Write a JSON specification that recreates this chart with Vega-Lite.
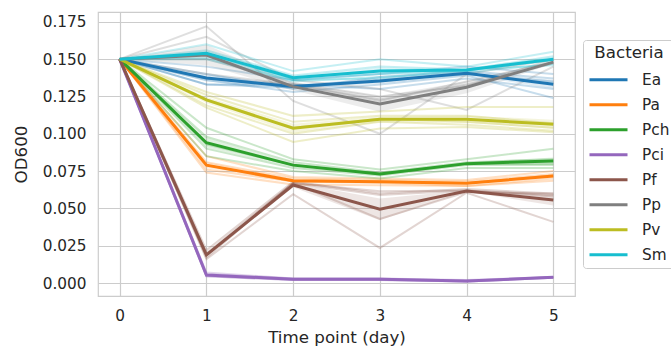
{
  "$schema": "https://vega.github.io/schema/vega-lite/v6.json",
  "width": 477,
  "height": 284,
  "autosize": {"type": "none"},
  "padding": {"left": 98, "top": 12, "right": 96, "bottom": 53},
  "background": "white",
  "config": {
    "font": "DejaVu Sans",
    "view": {"stroke": "#cccccc", "strokeWidth": 1.2},
    "axis": {
      "grid": true, "gridColor": "#cccccc", "gridWidth": 1.2, "domain": false, "ticks": false,
      "labelFontSize": 15.3, "labelColor": "#262626", "titleFontSize": 16.7, "titleColor": "#262626",
      "titleFontWeight": "normal", "labelPadding": 12
    },
    "legend": {
      "strokeColor": "#cccccc", "cornerRadius": 3, "padding": 5, "fillColor": "white",
      "titleFontSize": 16.7, "titleFontWeight": "normal", "titleColor": "#262626", "titleAnchor": "middle", "titlePadding": 7,
      "labelFontSize": 15.3, "labelColor": "#262626", "labelOffset": 32, "symbolType": "M-1,0H3",
      "symbolStrokeWidth": 3, "symbolSize": 361, "rowPadding": 5, "symbolOpacity": 1, "symbolFillColor": "transparent"
    }
  },
  "datasets": {
    "reps": [
      {"day":0,"bacteria":"Ea","rep":1,"od":0.150},{"day":1,"bacteria":"Ea","rep":1,"od":0.145},{"day":2,"bacteria":"Ea","rep":1,"od":0.136},{"day":3,"bacteria":"Ea","rep":1,"od":0.140},{"day":4,"bacteria":"Ea","rep":1,"od":0.145},{"day":5,"bacteria":"Ea","rep":1,"od":0.140},
      {"day":0,"bacteria":"Ea","rep":2,"od":0.150},{"day":1,"bacteria":"Ea","rep":2,"od":0.140},{"day":2,"bacteria":"Ea","rep":2,"od":0.130},{"day":3,"bacteria":"Ea","rep":2,"od":0.138},{"day":4,"bacteria":"Ea","rep":2,"od":0.142},{"day":5,"bacteria":"Ea","rep":2,"od":0.137},
      {"day":0,"bacteria":"Ea","rep":3,"od":0.150},{"day":1,"bacteria":"Ea","rep":3,"od":0.136},{"day":2,"bacteria":"Ea","rep":3,"od":0.128},{"day":3,"bacteria":"Ea","rep":3,"od":0.133},{"day":4,"bacteria":"Ea","rep":3,"od":0.139},{"day":5,"bacteria":"Ea","rep":3,"od":0.124},
      {"day":0,"bacteria":"Ea","rep":4,"od":0.150},{"day":1,"bacteria":"Ea","rep":4,"od":0.133},{"day":2,"bacteria":"Ea","rep":4,"od":0.133},{"day":3,"bacteria":"Ea","rep":4,"od":0.130},{"day":4,"bacteria":"Ea","rep":4,"od":0.137},{"day":5,"bacteria":"Ea","rep":4,"od":0.130},
      {"day":0,"bacteria":"Ea","rep":5,"od":0.150},{"day":1,"bacteria":"Ea","rep":5,"od":0.133},{"day":2,"bacteria":"Ea","rep":5,"od":0.131},{"day":3,"bacteria":"Ea","rep":5,"od":0.136},{"day":4,"bacteria":"Ea","rep":5,"od":0.140},{"day":5,"bacteria":"Ea","rep":5,"od":0.135},

      {"day":0,"bacteria":"Pa","rep":1,"od":0.150},{"day":1,"bacteria":"Pa","rep":1,"od":0.085},{"day":2,"bacteria":"Pa","rep":1,"od":0.071},{"day":3,"bacteria":"Pa","rep":1,"od":0.070},{"day":4,"bacteria":"Pa","rep":1,"od":0.069},{"day":5,"bacteria":"Pa","rep":1,"od":0.075},
      {"day":0,"bacteria":"Pa","rep":2,"od":0.150},{"day":1,"bacteria":"Pa","rep":2,"od":0.081},{"day":2,"bacteria":"Pa","rep":2,"od":0.070},{"day":3,"bacteria":"Pa","rep":2,"od":0.069},{"day":4,"bacteria":"Pa","rep":2,"od":0.068},{"day":5,"bacteria":"Pa","rep":2,"od":0.073},
      {"day":0,"bacteria":"Pa","rep":3,"od":0.150},{"day":1,"bacteria":"Pa","rep":3,"od":0.079},{"day":2,"bacteria":"Pa","rep":3,"od":0.068},{"day":3,"bacteria":"Pa","rep":3,"od":0.068},{"day":4,"bacteria":"Pa","rep":3,"od":0.067},{"day":5,"bacteria":"Pa","rep":3,"od":0.072},
      {"day":0,"bacteria":"Pa","rep":4,"od":0.150},{"day":1,"bacteria":"Pa","rep":4,"od":0.076},{"day":2,"bacteria":"Pa","rep":4,"od":0.068},{"day":3,"bacteria":"Pa","rep":4,"od":0.067},{"day":4,"bacteria":"Pa","rep":4,"od":0.065},{"day":5,"bacteria":"Pa","rep":4,"od":0.070},
      {"day":0,"bacteria":"Pa","rep":5,"od":0.150},{"day":1,"bacteria":"Pa","rep":5,"od":0.074},{"day":2,"bacteria":"Pa","rep":5,"od":0.066},{"day":3,"bacteria":"Pa","rep":5,"od":0.0655},{"day":4,"bacteria":"Pa","rep":5,"od":0.065},{"day":5,"bacteria":"Pa","rep":5,"od":0.0685},

      {"day":0,"bacteria":"Pch","rep":1,"od":0.150},{"day":1,"bacteria":"Pch","rep":1,"od":0.104},{"day":2,"bacteria":"Pch","rep":1,"od":0.083},{"day":3,"bacteria":"Pch","rep":1,"od":0.076},{"day":4,"bacteria":"Pch","rep":1,"od":0.083},{"day":5,"bacteria":"Pch","rep":1,"od":0.090},
      {"day":0,"bacteria":"Pch","rep":2,"od":0.150},{"day":1,"bacteria":"Pch","rep":2,"od":0.098},{"day":2,"bacteria":"Pch","rep":2,"od":0.081},{"day":3,"bacteria":"Pch","rep":2,"od":0.074},{"day":4,"bacteria":"Pch","rep":2,"od":0.081},{"day":5,"bacteria":"Pch","rep":2,"od":0.083},
      {"day":0,"bacteria":"Pch","rep":3,"od":0.150},{"day":1,"bacteria":"Pch","rep":3,"od":0.093},{"day":2,"bacteria":"Pch","rep":3,"od":0.079},{"day":3,"bacteria":"Pch","rep":3,"od":0.073},{"day":4,"bacteria":"Pch","rep":3,"od":0.080},{"day":5,"bacteria":"Pch","rep":3,"od":0.080},
      {"day":0,"bacteria":"Pch","rep":4,"od":0.150},{"day":1,"bacteria":"Pch","rep":4,"od":0.090},{"day":2,"bacteria":"Pch","rep":4,"od":0.077},{"day":3,"bacteria":"Pch","rep":4,"od":0.072},{"day":4,"bacteria":"Pch","rep":4,"od":0.079},{"day":5,"bacteria":"Pch","rep":4,"od":0.079},
      {"day":0,"bacteria":"Pch","rep":5,"od":0.150},{"day":1,"bacteria":"Pch","rep":5,"od":0.085},{"day":2,"bacteria":"Pch","rep":5,"od":0.075},{"day":3,"bacteria":"Pch","rep":5,"od":0.070},{"day":4,"bacteria":"Pch","rep":5,"od":0.077},{"day":5,"bacteria":"Pch","rep":5,"od":0.077},

      {"day":0,"bacteria":"Pci","rep":1,"od":0.150},{"day":1,"bacteria":"Pci","rep":1,"od":0.007},{"day":2,"bacteria":"Pci","rep":1,"od":0.003},{"day":3,"bacteria":"Pci","rep":1,"od":0.003},{"day":4,"bacteria":"Pci","rep":1,"od":0.002},{"day":5,"bacteria":"Pci","rep":1,"od":0.004},
      {"day":0,"bacteria":"Pci","rep":2,"od":0.150},{"day":1,"bacteria":"Pci","rep":2,"od":0.006},{"day":2,"bacteria":"Pci","rep":2,"od":0.003},{"day":3,"bacteria":"Pci","rep":2,"od":0.003},{"day":4,"bacteria":"Pci","rep":2,"od":0.0015},{"day":5,"bacteria":"Pci","rep":2,"od":0.004},
      {"day":0,"bacteria":"Pci","rep":3,"od":0.150},{"day":1,"bacteria":"Pci","rep":3,"od":0.005},{"day":2,"bacteria":"Pci","rep":3,"od":0.0025},{"day":3,"bacteria":"Pci","rep":3,"od":0.0025},{"day":4,"bacteria":"Pci","rep":3,"od":0.001},{"day":5,"bacteria":"Pci","rep":3,"od":0.0035},
      {"day":0,"bacteria":"Pci","rep":4,"od":0.150},{"day":1,"bacteria":"Pci","rep":4,"od":0.0045},{"day":2,"bacteria":"Pci","rep":4,"od":0.002},{"day":3,"bacteria":"Pci","rep":4,"od":0.002},{"day":4,"bacteria":"Pci","rep":4,"od":0.001},{"day":5,"bacteria":"Pci","rep":4,"od":0.004},
      {"day":0,"bacteria":"Pci","rep":5,"od":0.150},{"day":1,"bacteria":"Pci","rep":5,"od":0.0045},{"day":2,"bacteria":"Pci","rep":5,"od":0.002},{"day":3,"bacteria":"Pci","rep":5,"od":0.002},{"day":4,"bacteria":"Pci","rep":5,"od":0.001},{"day":5,"bacteria":"Pci","rep":5,"od":0.0035},

      {"day":0,"bacteria":"Pf","rep":1,"od":0.150},{"day":1,"bacteria":"Pf","rep":1,"od":0.022},{"day":2,"bacteria":"Pf","rep":1,"od":0.068},{"day":3,"bacteria":"Pf","rep":1,"od":0.060},{"day":4,"bacteria":"Pf","rep":1,"od":0.063},{"day":5,"bacteria":"Pf","rep":1,"od":0.060},
      {"day":0,"bacteria":"Pf","rep":2,"od":0.150},{"day":1,"bacteria":"Pf","rep":2,"od":0.020},{"day":2,"bacteria":"Pf","rep":2,"od":0.067},{"day":3,"bacteria":"Pf","rep":2,"od":0.059},{"day":4,"bacteria":"Pf","rep":2,"od":0.062},{"day":5,"bacteria":"Pf","rep":2,"od":0.059},
      {"day":0,"bacteria":"Pf","rep":3,"od":0.150},{"day":1,"bacteria":"Pf","rep":3,"od":0.019},{"day":2,"bacteria":"Pf","rep":3,"od":0.067},{"day":3,"bacteria":"Pf","rep":3,"od":0.0615},{"day":4,"bacteria":"Pf","rep":3,"od":0.062},{"day":5,"bacteria":"Pf","rep":3,"od":0.058},
      {"day":0,"bacteria":"Pf","rep":4,"od":0.150},{"day":1,"bacteria":"Pf","rep":4,"od":0.017},{"day":2,"bacteria":"Pf","rep":4,"od":0.067},{"day":3,"bacteria":"Pf","rep":4,"od":0.043},{"day":4,"bacteria":"Pf","rep":4,"od":0.061},{"day":5,"bacteria":"Pf","rep":4,"od":0.060},
      {"day":0,"bacteria":"Pf","rep":5,"od":0.150},{"day":1,"bacteria":"Pf","rep":5,"od":0.016},{"day":2,"bacteria":"Pf","rep":5,"od":0.0595},{"day":3,"bacteria":"Pf","rep":5,"od":0.0235},{"day":4,"bacteria":"Pf","rep":5,"od":0.0605},{"day":5,"bacteria":"Pf","rep":5,"od":0.041},

      {"day":0,"bacteria":"Pp","rep":1,"od":0.150},{"day":1,"bacteria":"Pp","rep":1,"od":0.172},{"day":2,"bacteria":"Pp","rep":1,"od":0.122},{"day":3,"bacteria":"Pp","rep":1,"od":0.100},{"day":4,"bacteria":"Pp","rep":1,"od":0.140},{"day":5,"bacteria":"Pp","rep":1,"od":0.150},
      {"day":0,"bacteria":"Pp","rep":2,"od":0.150},{"day":1,"bacteria":"Pp","rep":2,"od":0.165},{"day":2,"bacteria":"Pp","rep":2,"od":0.136},{"day":3,"bacteria":"Pp","rep":2,"od":0.130},{"day":4,"bacteria":"Pp","rep":2,"od":0.116},{"day":5,"bacteria":"Pp","rep":2,"od":0.145},
      {"day":0,"bacteria":"Pp","rep":3,"od":0.150},{"day":1,"bacteria":"Pp","rep":3,"od":0.150},{"day":2,"bacteria":"Pp","rep":3,"od":0.134},{"day":3,"bacteria":"Pp","rep":3,"od":0.125},{"day":4,"bacteria":"Pp","rep":3,"od":0.132},{"day":5,"bacteria":"Pp","rep":3,"od":0.150},
      {"day":0,"bacteria":"Pp","rep":4,"od":0.150},{"day":1,"bacteria":"Pp","rep":4,"od":0.140},{"day":2,"bacteria":"Pp","rep":4,"od":0.133},{"day":3,"bacteria":"Pp","rep":4,"od":0.122},{"day":4,"bacteria":"Pp","rep":4,"od":0.135},{"day":5,"bacteria":"Pp","rep":4,"od":0.148},
      {"day":0,"bacteria":"Pp","rep":5,"od":0.150},{"day":1,"bacteria":"Pp","rep":5,"od":0.137},{"day":2,"bacteria":"Pp","rep":5,"od":0.133},{"day":3,"bacteria":"Pp","rep":5,"od":0.123},{"day":4,"bacteria":"Pp","rep":5,"od":0.133},{"day":5,"bacteria":"Pp","rep":5,"od":0.147},

      {"day":0,"bacteria":"Pv","rep":1,"od":0.150},{"day":1,"bacteria":"Pv","rep":1,"od":0.128},{"day":2,"bacteria":"Pv","rep":1,"od":0.112},{"day":3,"bacteria":"Pv","rep":1,"od":0.115},{"day":4,"bacteria":"Pv","rep":1,"od":0.118},{"day":5,"bacteria":"Pv","rep":1,"od":0.118},
      {"day":0,"bacteria":"Pv","rep":2,"od":0.150},{"day":1,"bacteria":"Pv","rep":2,"od":0.126},{"day":2,"bacteria":"Pv","rep":2,"od":0.108},{"day":3,"bacteria":"Pv","rep":2,"od":0.112},{"day":4,"bacteria":"Pv","rep":2,"od":0.112},{"day":5,"bacteria":"Pv","rep":2,"od":0.107},
      {"day":0,"bacteria":"Pv","rep":3,"od":0.150},{"day":1,"bacteria":"Pv","rep":3,"od":0.123},{"day":2,"bacteria":"Pv","rep":3,"od":0.104},{"day":3,"bacteria":"Pv","rep":3,"od":0.110},{"day":4,"bacteria":"Pv","rep":3,"od":0.108},{"day":5,"bacteria":"Pv","rep":3,"od":0.104},
      {"day":0,"bacteria":"Pv","rep":4,"od":0.150},{"day":1,"bacteria":"Pv","rep":4,"od":0.119},{"day":2,"bacteria":"Pv","rep":4,"od":0.100},{"day":3,"bacteria":"Pv","rep":4,"od":0.108},{"day":4,"bacteria":"Pv","rep":4,"od":0.106},{"day":5,"bacteria":"Pv","rep":4,"od":0.102},
      {"day":0,"bacteria":"Pv","rep":5,"od":0.150},{"day":1,"bacteria":"Pv","rep":5,"od":0.1175},{"day":2,"bacteria":"Pv","rep":5,"od":0.0945},{"day":3,"bacteria":"Pv","rep":5,"od":0.1035},{"day":4,"bacteria":"Pv","rep":5,"od":0.1045},{"day":5,"bacteria":"Pv","rep":5,"od":0.101},

      {"day":0,"bacteria":"Sm","rep":1,"od":0.150},{"day":1,"bacteria":"Sm","rep":1,"od":0.160},{"day":2,"bacteria":"Sm","rep":1,"od":0.142},{"day":3,"bacteria":"Sm","rep":1,"od":0.150},{"day":4,"bacteria":"Sm","rep":1,"od":0.145},{"day":5,"bacteria":"Sm","rep":1,"od":0.155},
      {"day":0,"bacteria":"Sm","rep":2,"od":0.150},{"day":1,"bacteria":"Sm","rep":2,"od":0.156},{"day":2,"bacteria":"Sm","rep":2,"od":0.139},{"day":3,"bacteria":"Sm","rep":2,"od":0.145},{"day":4,"bacteria":"Sm","rep":2,"od":0.143},{"day":5,"bacteria":"Sm","rep":2,"od":0.152},
      {"day":0,"bacteria":"Sm","rep":3,"od":0.150},{"day":1,"bacteria":"Sm","rep":3,"od":0.153},{"day":2,"bacteria":"Sm","rep":3,"od":0.136},{"day":3,"bacteria":"Sm","rep":3,"od":0.140},{"day":4,"bacteria":"Sm","rep":3,"od":0.142},{"day":5,"bacteria":"Sm","rep":3,"od":0.150},
      {"day":0,"bacteria":"Sm","rep":4,"od":0.150},{"day":1,"bacteria":"Sm","rep":4,"od":0.151},{"day":2,"bacteria":"Sm","rep":4,"od":0.135},{"day":3,"bacteria":"Sm","rep":4,"od":0.138},{"day":4,"bacteria":"Sm","rep":4,"od":0.141},{"day":5,"bacteria":"Sm","rep":4,"od":0.147},
      {"day":0,"bacteria":"Sm","rep":5,"od":0.150},{"day":1,"bacteria":"Sm","rep":5,"od":0.150},{"day":2,"bacteria":"Sm","rep":5,"od":0.136},{"day":3,"bacteria":"Sm","rep":5,"od":0.137},{"day":4,"bacteria":"Sm","rep":5,"od":0.143},{"day":5,"bacteria":"Sm","rep":5,"od":0.146}
    ]
  },
  "data": {"name": "reps"},
  "encoding": {
    "x": {"field": "day", "type": "quantitative", "title": "Time point (day)",
      "scale": {"domain": [-0.25, 5.25], "nice": false, "zero": false},
      "axis": {"values": [0,1,2,3,4,5], "format": "d", "titlePadding": 6}},
    "color": {"field": "bacteria", "type": "nominal", "title": "Bacteria",
      "scale": {"domain": ["Ea","Pa","Pch","Pci","Pf","Pp","Pv","Sm"],
        "range": ["#1f77b4","#ff7f0e","#2ca02c","#9467bd","#8c564b","#7f7f7f","#bcbd22","#17becf"]},
      "legend": {"orient": "none", "legendX": 485, "legendY": 28}}
  },
  "layer": [
    {
      "mark": {"type": "line", "strokeWidth": 2, "opacity": 0.25},
      "encoding": {
        "y": {"field": "od", "type": "quantitative", "title": "OD600",
          "scale": {"domain": [-0.0087, 0.1816], "nice": false, "zero": false},
          "axis": {"values": [0,0.025,0.05,0.075,0.1,0.125,0.15,0.175], "format": ".3f", "titlePadding": 12}},
        "detail": {"field": "rep", "type": "nominal"}
      }
    },
    {
      "mark": {"type": "errorband", "extent": "stderr", "opacity": 0.15},
      "encoding": {
        "y": {"field": "od", "type": "quantitative", "title": "OD600"}
      }
    },
    {
      "mark": {"type": "line", "strokeWidth": 3},
      "encoding": {
        "y": {"aggregate": "mean", "field": "od", "type": "quantitative", "title": "OD600"}
      }
    }
  ]
}
